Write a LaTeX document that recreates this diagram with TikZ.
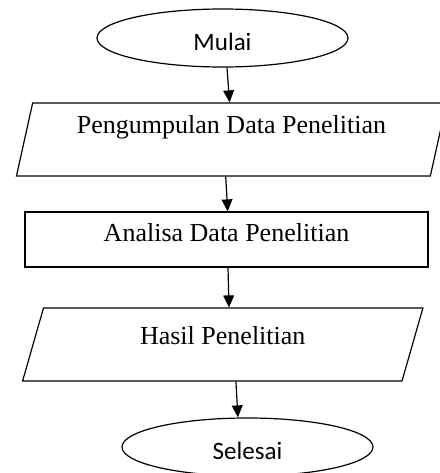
\documentclass[tikz,border=0pt]{standalone}
\usepackage{fontspec}
\setmainfont{Liberation Serif}
\newfontfamily\calib{Carlito}
\usetikzlibrary{shapes.geometric,arrows.meta}
\begin{document}
\begin{tikzpicture}[
    terminal/.style={draw, ellipse, line width=0.03cm, inner sep=0pt,
      minimum width=6.275cm, minimum height=1.45cm,
      font=\calib\fontsize{17.8}{20}\selectfont, text height=0.65cm, text depth=0cm},
    iobox/.style={draw, trapezium, trapezium left angle=75, trapezium right angle=105,
      trapezium stretches=true, line width=0.03cm, inner sep=0pt, minimum height=1.825cm,
      font=\fontsize{18.5}{22}\selectfont},
    procbox/.style={draw, rectangle, line width=0.03cm, inner sep=0pt,
      minimum width=10.075cm, minimum height=1.375cm,
      font=\fontsize{18.5}{22}\selectfont},
    flow/.style={line width=0.03cm, -{Triangle[length=0.3cm,width=0.27cm]}}]
  \useasboundingbox (0,0) rectangle (11.000000,11.825000);

  % Drawing start and end
  \node [terminal] (mulai) at (5.562500,10.875000) {Mulai};
  \node [terminal] (selesai) at (6.187500,0.650000) {Selesai};

  % Drawing steps
  \node [iobox, minimum width=10.775cm, text height=0.45cm, text depth=0.725cm]
    (kumpul) at (5.787500,8.337500) {Pengumpulan Data Penelitian};
  \node [procbox, text height=0.45cm, text depth=0.325cm]
    (analisa) at (5.662500,5.837500) {Analisa Data Penelitian};
  \node [iobox, minimum width=10.025cm, text height=0.45cm, text depth=0.45cm]
    (hasil) at (5.568750,3.212500) {Hasil Penelitian};

  % Drawing arrows
  \draw [flow] ([xshift=0.1125cm]mulai.south) -- ([xshift=-0.05cm]kumpul.north);
  \draw [flow] ([xshift=-0.145cm]kumpul.south) -- ([xshift=0.03cm]analisa.north);
  \draw [flow] ([xshift=0.0375cm]analisa.south) -- ([xshift=0.156cm]hasil.north);
  \draw [flow] ([xshift=0.33cm]hasil.south) -- ([xshift=-0.24cm]selesai.north);
\end{tikzpicture}
\end{document}
